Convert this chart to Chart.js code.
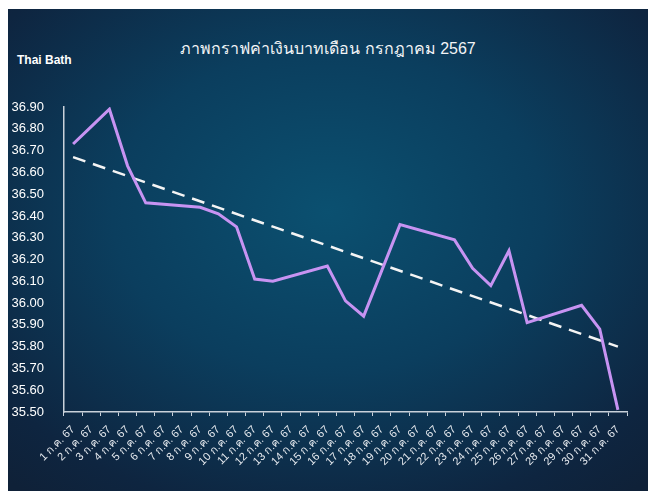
<!DOCTYPE html>
<html>
<head>
<meta charset="utf-8">
<script src="https://cdn.jsdelivr.net/npm/chart.js@4"></script>
<style>
  html, body { margin: 0; padding: 0; background: #ffffff; }
  #frame {
    position: absolute; left: 8px; top: 9px; width: 640px; height: 482px;
    background: radial-gradient(ellipse 75% 75% at 50% 42%, #0b5070 0%, #0b3e5e 45%, #0e2540 85%, #0f2138 100%);
    font-family: "Liberation Sans", Arial, "Noto Sans", sans-serif;
    color: #ffffff;
  }
  #title {
    position: absolute; left: 0; width: 640px; top: 27px; text-align: center;
    font-size: 16px; font-weight: 300; color: #f2f4f6;
  }
  #unit {
    position: absolute; left: 9px; top: 44px; font-size: 12px; font-weight: bold; color: #ffffff;
  }
  canvas { position: absolute; left: 0; top: 0; }
</style>
</head>
<body>
<div id="frame">
  <div id="title">ภาพกราฟค่าเงินบาทเดือน กรกฎาคม 2567</div>
  <div id="unit">Thai Bath</div>
  <canvas id="chart" width="640" height="482"></canvas>
</div>
<script>
// ----------------------------------------------------------------
// Data — baht per USD, July 2024 (weekends have no quote)
// ----------------------------------------------------------------

const dayLabels = [
  "1 ก.ค. 67", "2 ก.ค. 67", "3 ก.ค. 67", "4 ก.ค. 67", "5 ก.ค. 67", "6 ก.ค. 67",
  "7 ก.ค. 67", "8 ก.ค. 67", "9 ก.ค. 67", "10 ก.ค. 67", "11 ก.ค. 67", "12 ก.ค. 67",
  "13 ก.ค. 67", "14 ก.ค. 67", "15 ก.ค. 67", "16 ก.ค. 67", "17 ก.ค. 67", "18 ก.ค. 67",
  "19 ก.ค. 67", "20 ก.ค. 67", "21 ก.ค. 67", "22 ก.ค. 67", "23 ก.ค. 67", "24 ก.ค. 67",
  "25 ก.ค. 67", "26 ก.ค. 67", "27 ก.ค. 67", "28 ก.ค. 67", "29 ก.ค. 67", "30 ก.ค. 67",
  "31 ก.ค. 67"
];

const bahtRate = [
  36.73, 36.81, 36.89, 36.63, 36.46, null,
  null,  36.44, 36.41, 36.35, 36.11, 36.10,
  null,  null,  36.17, 36.01, 35.94, 36.15,
  36.36, null,  null,  36.29, 36.16, 36.08,
  36.24, 35.91, null,  null,  35.99, 35.88,
  35.51
];

// linear trend line at the first and last day
const trendStart = 36.67;
const trendEnd   = 35.80;
const trendLine  = bahtRate.map((_, i) =>
  i === 0 ? trendStart : (i === bahtRate.length - 1 ? trendEnd : null));

const yMin = 35.5;
const yMax = 36.9;
const yStep = 0.1;

// ----------------------------------------------------------------
// Chart
// ----------------------------------------------------------------

const axisColor = "#c9d1da";
const fontFamily = '"Liberation Sans", Arial, "Noto Sans", sans-serif';

new Chart(document.getElementById("chart").getContext("2d"), {
  type: "line",
  data: {
    labels: dayLabels,
    datasets: [
      {
        label: "ค่าเงินบาท",
        data: bahtRate,
        borderColor: "#c793f2",
        backgroundColor: "#c793f2",
        borderWidth: 3,
        pointRadius: 0,
        tension: 0,
        spanGaps: true,
        borderJoinStyle: "miter",
        order: 1,
      },
      {
        label: "แนวโน้ม",
        data: trendLine,
        borderColor: "#f4f4f4",
        borderWidth: 2.5,
        borderDash: [13, 8],
        pointRadius: 0,
        spanGaps: true,
        order: 2,
      },
    ],
  },
  options: {
    responsive: false,
    animation: false,
    layout: { padding: { left: 0, right: 21, top: 98, bottom: 0 } },
    plugins: {
      legend: { display: false },
      tooltip: { enabled: false },
    },
    scales: {
      x: {
        offset: true,
        grid: {
          offset: true,
          drawOnChartArea: false,
          drawTicks: true,
          tickLength: 4,
          color: axisColor,
        },
        border: { color: axisColor, width: 1.5 },
        ticks: {
          color: "#e6eaef",
          font: { family: fontFamily, size: 11 },
          minRotation: 45,
          maxRotation: 45,
          autoSkip: false,
          padding: 7,
        },
        afterFit: (scale) => { scale.height = 79; },
      },
      y: {
        min: yMin,
        max: yMax,
        grid: { display: false, drawTicks: false },
        border: { color: axisColor, width: 1.5 },
        ticks: {
          stepSize: yStep,
          color: "#ffffff",
          font: { family: fontFamily, size: 13 },
          padding: 20,
          callback: (v) => Number(v).toFixed(2),
        },
        afterFit: (scale) => { scale.width = 56; },
      },
    },
  },
});
</script>
</body>
</html>
